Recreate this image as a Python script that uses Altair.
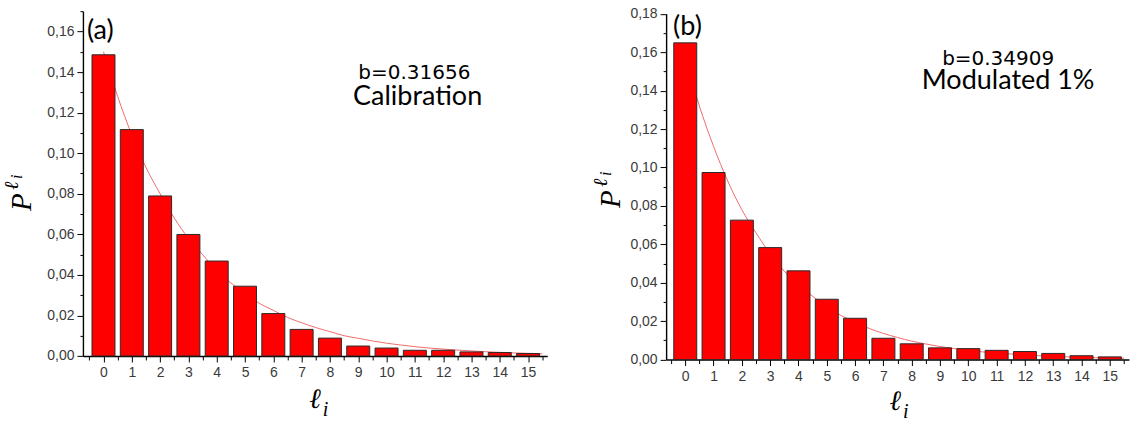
import altair as alt
import pandas as pd

# ---------------- data ----------------
ells = list(range(16))
p_calibration = [0.1485, 0.1116, 0.0789, 0.0599, 0.0468, 0.0344, 0.0209, 0.0131,
                 0.0088, 0.0049, 0.0039, 0.0028, 0.0028, 0.0020, 0.0017, 0.0012]
p_modulated = [0.1649, 0.0974, 0.0726, 0.0583, 0.0462, 0.0314, 0.0215, 0.0111,
               0.0082, 0.0061, 0.0057, 0.0048, 0.0042, 0.0032, 0.0020, 0.0014]

fit_l = [0, 0.5, 1, 1.5, 2, 2.5, 3, 3.5, 4, 4.5, 5, 5.5, 6, 6.5, 7, 7.5,
         8, 8.5, 9, 9.5, 10, 10.5, 11, 11.5, 12, 12.5, 13, 13.5, 14, 14.5, 15, 15.5]
fit_calibration = [0.150, 0.128, 0.109, 0.093, 0.080, 0.068, 0.058, 0.050,
                   0.042, 0.036, 0.031, 0.026, 0.0225, 0.019, 0.0164, 0.014,
                   0.012, 0.010, 0.0087, 0.0074, 0.0063, 0.0054, 0.0046, 0.0039,
                   0.0034, 0.0029, 0.0025, 0.0021, 0.0018, 0.0015, 0.0013, 0.0011]
fit_modulated = [0.157, 0.132, 0.111, 0.093, 0.078, 0.066, 0.055, 0.046,
                 0.039, 0.033, 0.0274, 0.023, 0.0193, 0.0162, 0.0136, 0.0115,
                 0.0096, 0.0081, 0.0068, 0.0057, 0.0048, 0.0040, 0.0034, 0.0029,
                 0.0024, 0.0020, 0.0017, 0.0014, 0.0012, 0.0010, 0.0008, 0.0007]

x_major_ticks = list(range(16))
x_minor_ticks = [-0.5 + i for i in range(17)]
y_major_a = [0.00, 0.02, 0.04, 0.06, 0.08, 0.10, 0.12, 0.14, 0.16]
y_minor_a = [0.01, 0.03, 0.05, 0.07, 0.09, 0.11, 0.13, 0.15, 0.17]
y_major_b = [0.00, 0.02, 0.04, 0.06, 0.08, 0.10, 0.12, 0.14, 0.16, 0.18]
y_minor_b = [0.01, 0.03, 0.05, 0.07, 0.09, 0.11, 0.13, 0.15, 0.17]

panel_a_labels = ["(a)", "b=0.31656", "Calibration"]
panel_b_labels = ["(b)", "b=0.34909", "Modulated 1%"]

LABEL_FONT = "Liberation Sans"
TITLE_FONT = "Liberation Serif"
NOTE_FONT = "Lato"
BAR_RED = "#ff0000"
FIT_RED = "#f26b6b"

label_expr = "replace(format(datum.value, '.2f'), '.', ',')"


def text_layer(txt, x, y, size, font, align="left", baseline="alphabetic",
               angle=0, style="normal", weight="normal"):
    return alt.Chart(pd.DataFrame({"t": [txt]})).mark_text(
        fontSize=size, font=font, align=align, baseline=baseline, angle=angle,
        fontStyle=style, fontWeight=weight, color="#000000"
    ).encode(text="t:N", x=alt.value(x), y=alt.value(y))


def panel(p, fit, ymax, y_major, y_minor, yrange, width, height, labels, pos):
    bars_df = pd.DataFrame({"l": ells, "p": p})
    fit_df = pd.DataFrame({"l": fit_l, "p": fit})
    xs = alt.Scale(domain=[pos["xmin"], 15.5], nice=False, zero=False)
    ys = alt.Scale(domain=[0, ymax], nice=False, zero=True, range=yrange)

    curve = alt.Chart(fit_df).mark_line(color=FIT_RED, strokeWidth=1, interpolate="monotone").encode(
        x=alt.X("l:Q", scale=xs, axis=alt.Axis(
            orient="bottom", values=x_minor_ticks, labels=False, domain=False, grid=False,
            tickSize=4, tickColor="#000000", tickWidth=1, title=None)),
        y=alt.Y("p:Q", scale=ys, axis=alt.Axis(
            orient="left", values=y_minor, labels=False, domain=False, grid=False,
            tickSize=3, tickColor="#000000", tickWidth=1, title=None)),
    )
    bars = alt.Chart(bars_df).mark_bar(size=23, fill=BAR_RED, stroke="#2a2a2a", strokeWidth=1).encode(
        x=alt.X("l:Q", scale=xs, axis=alt.Axis(
            orient="bottom", values=x_major_ticks, grid=False, domainColor="#000000",
            domainWidth=1.4, tickColor="#000000", tickWidth=1, tickSize=6,
            labelFont=LABEL_FONT, labelFontSize=14, labelColor="#3a3a3a",
            labelPadding=4, labelFlush=False, labelOverlap=False, title=None)),
        y=alt.Y("p:Q", scale=ys, axis=alt.Axis(
            orient="left", values=y_major, grid=False, domainColor="#000000",
            domainWidth=1.4, tickColor="#000000", tickWidth=1, tickSize=6,
            labelFont=LABEL_FONT, labelFontSize=14, labelColor="#3a3a3a",
            labelPadding=3, labelExpr=label_expr, labelFlush=False, title=None)),
    )
    layers = [curve, bars]
    # panel letter and annotations
    layers.append(text_layer(labels[0], pos["letter"][0], pos["letter"][1], 27, NOTE_FONT, baseline="middle"))
    layers.append(text_layer(labels[1], pos["b"][0], pos["b"][1], 20, "DejaVu Sans", align="center"))
    layers.append(text_layer(labels[2], pos["name_xy"][0], pos["name_xy"][1], 27, NOTE_FONT, align="center"))
    # y title  P^{l_i}
    yt = pos["ytitle"]
    layers.append(text_layer("P", yt[0], yt[1], 29, TITLE_FONT, angle=270, style="italic"))
    layers.append(text_layer("\u2113", yt[0] - 13, yt[1] - 21, 20, TITLE_FONT, angle=270, style="italic"))
    layers.append(text_layer("i", yt[0] - 9, yt[1] - 32, 16, TITLE_FONT, angle=270, style="italic"))
    # x title l_i
    xt = pos["xtitle"]
    layers.append(text_layer("\u2113", xt[0], xt[1], 28, TITLE_FONT, style="italic", weight="bold"))
    layers.append(text_layer("i", xt[0] + 13, xt[1] + 8, 20, TITLE_FONT, style="italic"))
    if pos["name"] == "a":
        # invisible frame that fixes the page bounds (whole 1131x421 canvas)
        layers.append(alt.Chart(pd.DataFrame({"t": [0]})).mark_rect(opacity=0).encode(
            x=alt.value(-82.3), x2=alt.value(1131 - 82.3),
            y=alt.value(-10.6), y2=alt.value(421 - 10.6)))
    return alt.layer(*layers).resolve_axis(x="independent", y="independent").properties(
        width=width, height=height)


panel_a = panel(p_calibration, fit_calibration, 0.17, y_major_a, y_minor_a,
                [345.1, 0], 464.7, 345.1, panel_a_labels,
                {"name": "a", "xmin": -0.55, "letter": (4, 20), "b": (331.7, 68),
                 "name_xy": (335, 93.7), "ytitle": (-52, 200), "xtitle": (227, 397)})
panel_b = panel(p_modulated, fit_modulated, 0.18, y_major_b, y_minor_b,
                [348.7, 2.7], 463.3, 348.7, panel_b_labels,
                {"name": "b", "xmin": -0.5, "letter": (7, 15.4), "b": (332.3, 53.4),
                 "name_xy": (342.3, 77.7), "ytitle": (-46, 197), "xtitle": (224, 399)})

chart = alt.hconcat(panel_a, panel_b, spacing=118.7, bounds="flush").properties(
    padding=0, background="#ffffff"
).configure_view(stroke=None)

chart.save("out.html", embed_options={"renderer": "svg", "actions": False})
